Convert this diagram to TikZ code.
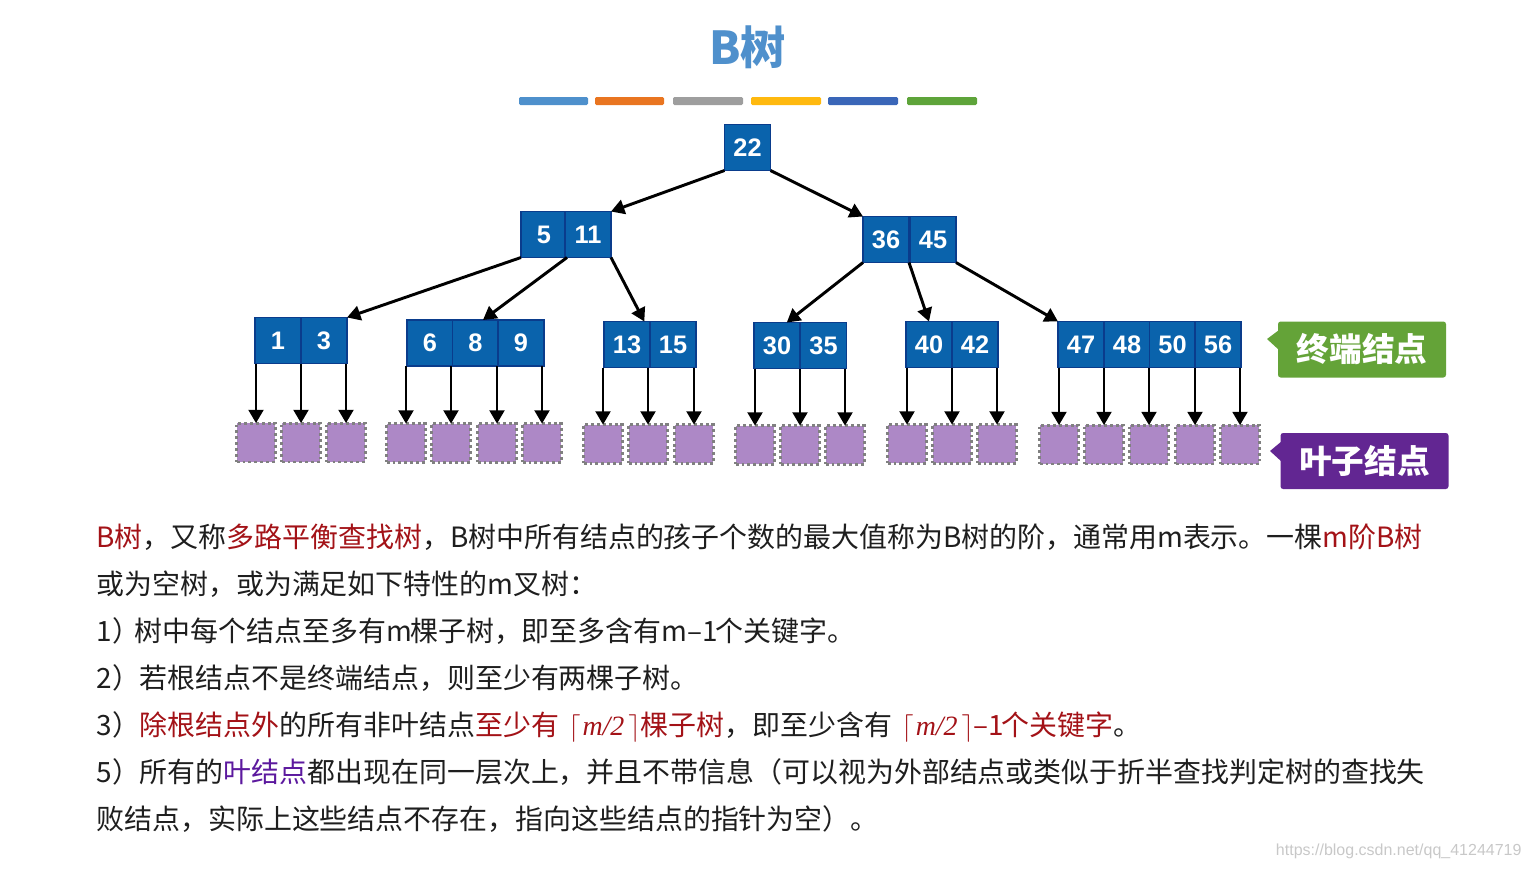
\documentclass[tikz,border=0pt]{standalone}
\usepackage[no-math]{fontspec}
\setmainfont{Noto Sans CJK SC}
\newfontfamily\keyfont{Liberation Sans}
\newfontfamily\ceilfont{Liberation Serif}
\usetikzlibrary{arrows.meta}
\definecolor{keyred}{rgb}{0.64,0.07,0.09}
\definecolor{keypurple}{rgb}{0.36,0.10,0.62}
\newcommand{\halfm}{\smash{$\lceil$\kern1.5pt{\ceilfont\itshape m/2}\kern3pt$\rceil$}}
\tikzset{every picture/.style={line width=0.75pt}}
\tikzset{
  keycell/.style={draw={rgb,255:red,10;green,60;blue,140},fill={rgb,255:red,10;green,99;blue,172},line width=1.2pt,minimum size=34.5pt,inner sep=0pt,outer sep=0pt,text=white,font=\keyfont\fontsize{19}{19}\selectfont\bfseries},
  leafcell/.style={draw={rgb,255:red,128;green,128;blue,128},fill={rgb,255:red,173;green,136;blue,198},line width=2pt,dash pattern={on 2.2pt off 2.2pt},minimum size=29pt,inner sep=0pt,outer sep=0pt},
  treelink/.style={-{Triangle[length=10pt,width=11pt]},line width=2.2pt,black},
  bodyline/.style={anchor=west,inner sep=0pt,font=\fontsize{20.95}{21}\selectfont,text={rgb,255:red,30;green,30;blue,30}},
  tagend/.style={fill={rgb,255:red,100;green,163;blue,56}},
  tagleaf/.style={fill={rgb,255:red,98;green,38;blue,146}},
  tagtext/.style={rounded corners=2pt,inner sep=0pt,minimum height=42pt,minimum width=126pt,text=white,font=\fontsize{24.5}{24.5}\selectfont\bfseries},
  colorbar/.style={rounded corners=1pt}
}

\begin{document}
\begin{tikzpicture}[x=0.75pt,y=0.75pt,yscale=-1,xscale=1]
\useasboundingbox (0,0) rectangle (1531,868);

% title and bars
\draw (747.5,47) node [font=\fontsize{34}{34}\selectfont\bfseries,text={rgb,255:red,79;green,144;blue,204},inner sep=0pt] (title) {B树};
\fill [colorbar,fill={rgb,255:red,78;green,144;blue,204}] (519,97) rectangle (588,105);
\fill [colorbar,fill={rgb,255:red,233;green,117;blue,32}] (595,97) rectangle (664,105);
\fill [colorbar,fill={rgb,255:red,158;green,158;blue,158}] (673,97) rectangle (743,105);
\fill [colorbar,fill={rgb,255:red,255;green,185;blue,15}] (751,97) rectangle (821,105);
\fill [colorbar,fill={rgb,255:red,58;green,102;blue,184}] (828,97) rectangle (898,105);
\fill [colorbar,fill={rgb,255:red,94;green,164;blue,58}] (907,97) rectangle (977,105);

% keys
\draw (747.5,147.5) node [keycell] (k22) {22};
\draw (544,234.5) node [keycell] (k5) {5};
\draw (588,234.5) node [keycell] (k11) {11};
\draw (886,239.5) node [keycell] (k36) {36};
\draw (933,239.5) node [keycell] (k45) {45};
\draw (278,340.5) node [keycell] (k1) {1};
\draw (324,340.5) node [keycell] (k3) {3};
\draw (430,343) node [keycell] (k6) {6};
\draw (475.5,343) node [keycell] (k8) {8};
\draw (521,343) node [keycell] (k9) {9};
\draw (627,344.5) node [keycell] (k13) {13};
\draw (673,344.5) node [keycell] (k15) {15};
\draw (777,345.5) node [keycell] (k30) {30};
\draw (823.5,345.5) node [keycell] (k35) {35};
\draw (929,344.5) node [keycell] (k40) {40};
\draw (975,344.5) node [keycell] (k42) {42};
\draw (1081,344.5) node [keycell] (k47) {47};
\draw (1127,344.5) node [keycell] (k48) {48};
\draw (1172.5,344.5) node [keycell] (k50) {50};
\draw (1218,344.5) node [keycell] (k56) {56};

% leaves
\draw (256,442.5) node [leafcell] (a1) {};
\draw (301,442.5) node [leafcell] (a2) {};
\draw (346,442.5) node [leafcell] (a3) {};
\draw (406,443) node [leafcell] (b1) {};
\draw (451,443) node [leafcell] (b2) {};
\draw (497,443) node [leafcell] (b3) {};
\draw (542,443) node [leafcell] (b4) {};
\draw (603,444) node [leafcell] (c1) {};
\draw (648,444) node [leafcell] (c2) {};
\draw (694,444) node [leafcell] (c3) {};
\draw (755,445) node [leafcell] (d1) {};
\draw (800,445) node [leafcell] (d2) {};
\draw (845,445) node [leafcell] (d3) {};
\draw (907,444) node [leafcell] (e1) {};
\draw (952,444) node [leafcell] (e2) {};
\draw (997,444) node [leafcell] (e3) {};
\draw (1059,444.5) node [leafcell] (f1) {};
\draw (1104,444.5) node [leafcell] (f2) {};
\draw (1149,444.5) node [leafcell] (f3) {};
\draw (1195,444.5) node [leafcell] (f4) {};
\draw (1240,444.5) node [leafcell] (f5) {};

% links between keys
\draw [treelink] (k22.south west) -- (k11.north east);
\draw [treelink] (k22.south east) -- (k36.north west);
\draw [treelink] (k5.south west) -- (k3.north east);
\draw [treelink] (k5.south east) -- (k8.72);
\draw [treelink] (k11.south east) -- (k13.53);
\draw [treelink] (k36.south west) -- (k30.67);
\draw [treelink] (k36.south east) -- (k40.north);
\draw [treelink] (k45.south east) -- (k47.north west);

% links to leaves
\draw [treelink] (a1.north |- k1.south) -- (a1.north);
\draw [treelink] (a2.north |- k1.south) -- (a2.north);
\draw [treelink] (a3.north |- k3.south) -- (a3.north);
\draw [treelink] (b1.north |- k6.south) -- (b1.north);
\draw [treelink] (b2.north |- k6.south) -- (b2.north);
\draw [treelink] (b3.north |- k8.south) -- (b3.north);
\draw [treelink] (b4.north |- k9.south) -- (b4.north);
\draw [treelink] (c1.north |- k13.south) -- (c1.north);
\draw [treelink] (c2.north |- k13.south) -- (c2.north);
\draw [treelink] (c3.north |- k15.south) -- (c3.north);
\draw [treelink] (d1.north |- k30.south) -- (d1.north);
\draw [treelink] (d2.north |- k30.south) -- (d2.north);
\draw [treelink] (d3.north |- k35.south) -- (d3.north);
\draw [treelink] (e1.north |- k40.south) -- (e1.north);
\draw [treelink] (e2.north |- k40.south) -- (e2.north);
\draw [treelink] (e3.north |- k42.south) -- (e3.north);
\draw [treelink] (f1.north |- k47.south) -- (f1.north);
\draw [treelink] (f2.north |- k47.south) -- (f2.north);
\draw [treelink] (f3.north |- k48.south) -- (f3.north);
\draw [treelink] (f4.north |- k50.south) -- (f4.north);
\draw [treelink] (f5.north |- k56.south) -- (f5.north);

% tags
\fill [tagend] (1279,330) -- (1267,339) -- (1279,350) -- cycle;
\draw (1362,349.5) node [tagtext,tagend] (tag1) {终端结点};
\fill [tagleaf] (1282,441) -- (1270,451) -- (1282,462) -- cycle;
\draw (1364.5,461) node [tagtext,tagleaf] (tag2) {叶子结点};

% body text
\draw (96,537) node [bodyline] (line1) {\textcolor{keyred}{B树}，又称\textcolor{keyred}{多路平衡查找树}，B树中所有结点的孩子个数的最大值称为B树的阶，通常用m表示。一棵\textcolor{keyred}{m阶B树}};
\draw (96,584) node [bodyline] (line2) {或为空树，或为满足如下特性的m叉树：};
\draw (96,631) node [bodyline] (line3) {1）\kern-3.75pt 树中每个结点至多有m\kern-1.5pt 棵子树，即至多含有m–1\kern-2pt 个关键字。};
\draw (96,678) node [bodyline] (line4) {2）若根结点不是终端结点，则至少有两棵子树。};
\draw (96,725) node [bodyline] (line5) {3）\textcolor{keyred}{除根结点外}的所有非叶结点\textcolor{keyred}{至少有\hspace{7pt}\halfm 棵子树}，即至少含有\hspace{7pt}\textcolor{keyred}{\halfm–1\kern-2pt 个关键字}。};
\draw (96,772) node [bodyline] (line6) {5）所有的\textcolor{keypurple}{叶结点}都出现在同一层次上，并且不带信息（可以视为外部结点或类似于折半查找判定树的查找失};
\draw (96,819) node [bodyline] (line7) {败结点，实际上这些结点不存在，指向这些结点的指针为空）。};
\draw (1522,851) node [anchor=east,inner sep=0pt,font=\keyfont\fontsize{12}{12}\selectfont,text={rgb,255:red,200;green,200;blue,200}] (mark) {https://blog.csdn.net/qq\_41244719};
\end{tikzpicture}
\end{document}
